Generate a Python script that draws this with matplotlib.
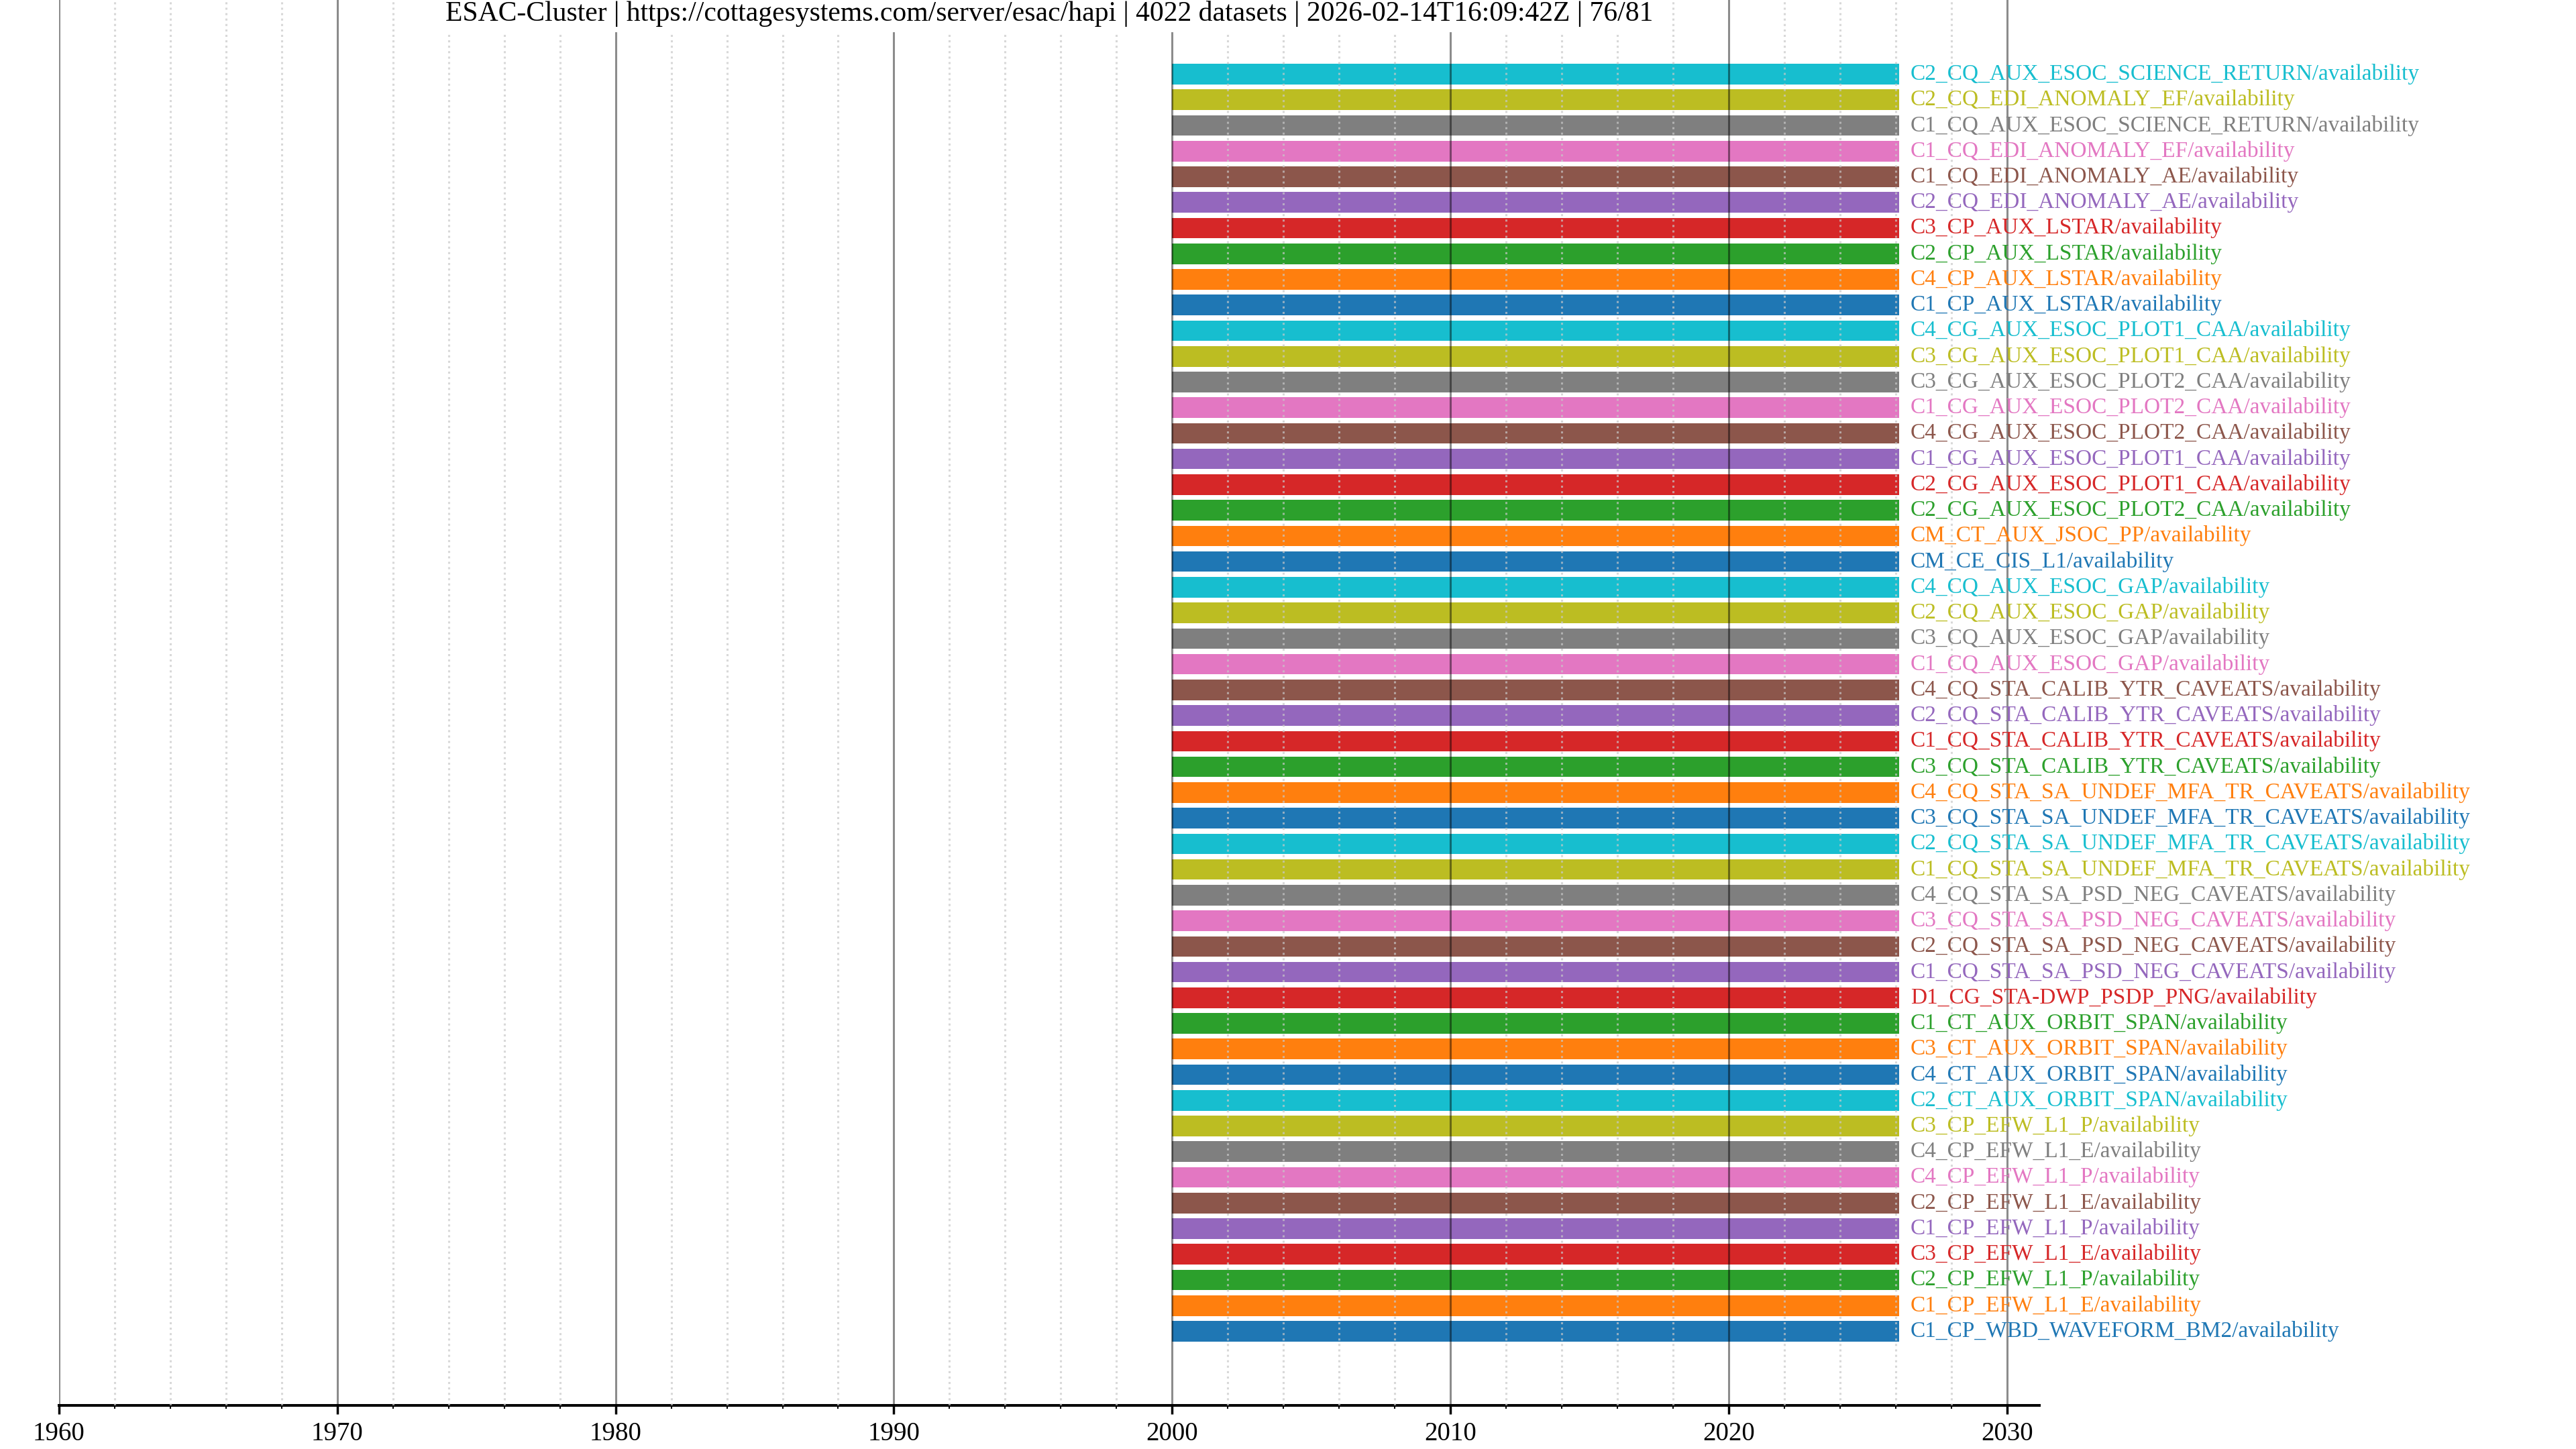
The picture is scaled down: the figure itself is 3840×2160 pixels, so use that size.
import matplotlib
matplotlib.use("Agg")
import matplotlib.pyplot as plt
from matplotlib.ticker import MultipleLocator

plt.rcParams['font.family'] = ['Liberation Serif', 'DejaVu Serif']

title = ("ESAC-Cluster | https://cottagesystems.com/server/esac/hapi | 4022 datasets"
         " | 2026-02-14T16:09:42Z | 76/81")

# datasets, listed bottom to top
datasets = [
    'C1_CP_WBD_WAVEFORM_BM2', 'C1_CP_EFW_L1_E', 'C2_CP_EFW_L1_P', 'C3_CP_EFW_L1_E',
    'C1_CP_EFW_L1_P', 'C2_CP_EFW_L1_E', 'C4_CP_EFW_L1_P', 'C4_CP_EFW_L1_E',
    'C3_CP_EFW_L1_P', 'C2_CT_AUX_ORBIT_SPAN', 'C4_CT_AUX_ORBIT_SPAN', 'C3_CT_AUX_ORBIT_SPAN',
    'C1_CT_AUX_ORBIT_SPAN', 'D1_CG_STA-DWP_PSDP_PNG', 'C1_CQ_STA_SA_PSD_NEG_CAVEATS',
    'C2_CQ_STA_SA_PSD_NEG_CAVEATS', 'C3_CQ_STA_SA_PSD_NEG_CAVEATS', 'C4_CQ_STA_SA_PSD_NEG_CAVEATS',
    'C1_CQ_STA_SA_UNDEF_MFA_TR_CAVEATS', 'C2_CQ_STA_SA_UNDEF_MFA_TR_CAVEATS',
    'C3_CQ_STA_SA_UNDEF_MFA_TR_CAVEATS', 'C4_CQ_STA_SA_UNDEF_MFA_TR_CAVEATS',
    'C3_CQ_STA_CALIB_YTR_CAVEATS', 'C1_CQ_STA_CALIB_YTR_CAVEATS', 'C2_CQ_STA_CALIB_YTR_CAVEATS',
    'C4_CQ_STA_CALIB_YTR_CAVEATS', 'C1_CQ_AUX_ESOC_GAP', 'C3_CQ_AUX_ESOC_GAP',
    'C2_CQ_AUX_ESOC_GAP', 'C4_CQ_AUX_ESOC_GAP', 'CM_CE_CIS_L1', 'CM_CT_AUX_JSOC_PP',
    'C2_CG_AUX_ESOC_PLOT2_CAA', 'C2_CG_AUX_ESOC_PLOT1_CAA', 'C1_CG_AUX_ESOC_PLOT1_CAA',
    'C4_CG_AUX_ESOC_PLOT2_CAA', 'C1_CG_AUX_ESOC_PLOT2_CAA', 'C3_CG_AUX_ESOC_PLOT2_CAA',
    'C3_CG_AUX_ESOC_PLOT1_CAA', 'C4_CG_AUX_ESOC_PLOT1_CAA', 'C1_CP_AUX_LSTAR',
    'C4_CP_AUX_LSTAR', 'C2_CP_AUX_LSTAR', 'C3_CP_AUX_LSTAR', 'C2_CQ_EDI_ANOMALY_AE',
    'C1_CQ_EDI_ANOMALY_AE', 'C1_CQ_EDI_ANOMALY_EF', 'C1_CQ_AUX_ESOC_SCIENCE_RETURN',
    'C2_CQ_EDI_ANOMALY_EF', 'C2_CQ_AUX_ESOC_SCIENCE_RETURN',
]

# availability span in decimal years (start 2000-01-01, stop 2026-02-14)
start_year = [
    2000.0, 2000.0, 2000.0, 2000.0, 2000.0, 2000.0, 2000.0, 2000.0, 2000.0, 2000.0,
    2000.0, 2000.0, 2000.0, 2000.0, 2000.0, 2000.0, 2000.0, 2000.0, 2000.0, 2000.0,
    2000.0, 2000.0, 2000.0, 2000.0, 2000.0, 2000.0, 2000.0, 2000.0, 2000.0, 2000.0,
    2000.0, 2000.0, 2000.0, 2000.0, 2000.0, 2000.0, 2000.0, 2000.0, 2000.0, 2000.0,
    2000.0, 2000.0, 2000.0, 2000.0, 2000.0, 2000.0, 2000.0, 2000.0, 2000.0, 2000.0,
]
stop_year = [
    2026.12, 2026.12, 2026.12, 2026.12, 2026.12, 2026.12, 2026.12, 2026.12, 2026.12, 2026.12,
    2026.12, 2026.12, 2026.12, 2026.12, 2026.12, 2026.12, 2026.12, 2026.12, 2026.12, 2026.12,
    2026.12, 2026.12, 2026.12, 2026.12, 2026.12, 2026.12, 2026.12, 2026.12, 2026.12, 2026.12,
    2026.12, 2026.12, 2026.12, 2026.12, 2026.12, 2026.12, 2026.12, 2026.12, 2026.12, 2026.12,
    2026.12, 2026.12, 2026.12, 2026.12, 2026.12, 2026.12, 2026.12, 2026.12, 2026.12, 2026.12,
]

colors = plt.cm.tab10.colors

fig = plt.figure(figsize=(38.4, 21.6), dpi=100)
ax = fig.add_axes([0.02284, 0.0301, 0.7688, 0.9699])

for i, name in enumerate(datasets):
    c = colors[i % 10]
    ax.barh(i, stop_year[i] - start_year[i], left=start_year[i], height=0.8, color=c)
    ax.annotate(name + '/availability', (stop_year[i], i), xytext=(12, 0),
                textcoords='offset points', va='center', ha='left',
                color=c, fontsize=24, annotation_clip=False)

ax.set_xlim(1960, 2031.15)
ax.set_ylim(-2.89, len(datasets) - 1 + 2.89)
ax.set_yticks([])

ax.xaxis.set_major_locator(MultipleLocator(10))
ax.xaxis.set_minor_locator(MultipleLocator(2))
ax.set_axisbelow(False)
ax.grid(which='major', axis='x', color='k', alpha=0.45, lw=2.2)
ax.grid(which='minor', axis='x', color='#c8c8c8', alpha=0.7, ls=':', lw=2.2)

for s in ['top', 'right', 'left']:
    ax.spines[s].set_visible(False)
ax.spines['bottom'].set_linewidth(2.9)
ax.tick_params(axis='x', which='major', length=9.4, width=2.5, labelsize=28, pad=8)
ax.tick_params(axis='x', which='minor', length=3.6, width=1.5)

ax.text(0.5, 0.9995, title, transform=ax.transAxes, ha='center', va='top',
        fontsize=30, zorder=5,
        bbox=dict(facecolor='white', edgecolor='none', pad=6))

fig.savefig('out.png', dpi=100)
